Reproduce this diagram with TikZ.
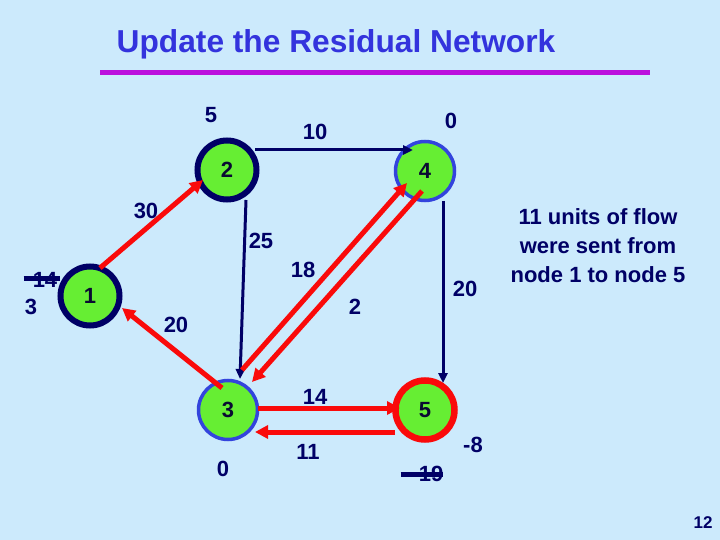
\documentclass[tikz,border=0pt]{standalone}
\usepackage{fontspec}
\setmainfont{Liberation Sans}
\usetikzlibrary{arrows.meta,calc}
\definecolor{bg}{RGB}{204,234,252}
\definecolor{navy}{RGB}{0,0,102}
\definecolor{nodegreen}{RGB}{102,238,51}
\definecolor{bluering}{RGB}{51,68,221}
\definecolor{redline}{RGB}{250,10,10}
\definecolor{titleblue}{RGB}{51,51,221}
\definecolor{magenta2}{RGB}{187,17,221}
\definecolor{ink}{RGB}{10,10,50}
\begin{document}
\begin{tikzpicture}[x=1pt,y=-1pt,
  netnode/.style={circle,fill=nodegreen,minimum size=59pt,inner sep=0pt,
    font=\bfseries\fontsize{22}{25}\selectfont,text=ink},
  darkring/.style={netnode,draw=navy,line width=6pt},
  bluer/.style={netnode,draw=bluering,line width=3.5pt},
  redr/.style={netnode,draw=redline,line width=6.5pt},
  lbl/.style={font=\bfseries\fontsize{22}{25}\selectfont,text=navy,inner sep=0pt},
  redarrow/.style={draw=redline,line width=5pt,-{Triangle[length=13pt,width=13pt]}},
  navyarrow/.style={draw=navy,line width=3pt,-{Triangle[length=10pt,width=9pt]}},
  strike/.style={draw=navy,line width=5pt}
]
\fill[bg] (0,0) rectangle (720,540);
\useasboundingbox (0,0) rectangle (720,540);

% title
\node[font=\bfseries\fontsize{31.7}{36}\selectfont,text=titleblue,inner sep=0pt] (title) at (336,44) {Update the Residual Network};
\coordinate (ruleL) at (100,73);
\coordinate (ruleR) at (650,73);
\draw[magenta2,line width=5pt] (ruleL) -- (ruleR);

% nodes
\node[darkring] (n1) at (90,296) {1};
\node[darkring] (n2) at (227,170) {2};
\node[bluer] (n4) at (425,171) {4};
\node[bluer] (n3) at (228,410) {3};
\node[redr] (n5) at (425,410) {5};

% navy arcs
\draw[navyarrow] ($(n2)+(28,-20)$) -- ($(n4)+(-12,-21)$);
\draw[navyarrow] ($(n2)+(19,30)$) -- ($(n3)+(12,-31)$);
\draw[navyarrow] ($(n4)+(18,30)$) -- ($(n5)+(18,-27)$);

% red arcs
\draw[redarrow] ($(n1)+(10,-28)$) -- ($(n2)+(-24,10)$);
\draw[redarrow] ($(n3)+(-6,-22)$) -- ($(n1)+(32,12)$);
\draw[redarrow] ($(n3)+(14,-40)$) -- ($(n4)+(-18,12)$);
\draw[redarrow] ($(n4)+(-3,20)$) -- ($(n3)+(24,-28)$);
\draw[redarrow] ($(n3)+(30,-2)$) -- ($(n5)+(-25,-2)$);
\draw[redarrow] ($(n5)+(-30,22)$) -- ($(n3)+(27,22)$);

% arc labels
\node[lbl] (l30) at (146,211) {30};
\node[lbl] (l10) at (315,132) {10};
\node[lbl] (l25) at (261,241) {25};
\node[lbl] (l18) at (303,270) {18};
\node[lbl] (l20r) at (465,289) {20};
\node[lbl] (l2) at (355,307) {2};
\node[lbl] (l20l) at (176,325) {20};
\node[lbl] (l14) at (315,397) {14};
\node[lbl] (l11) at (308,452) {11};

% node supplies
\node[lbl] (s2) at (211,115) {5};
\node[lbl] (s4) at (451,121) {0};
\node[lbl] (s1) at (31,307) {3};
\node[lbl] (s1old) at (45,280) {14};
\draw[strike,shorten <=-9pt,shorten >=-3pt] ($(s1old.west)+(0,-2)$) -- ($(s1old.east)+(0,-2)$);
\node[lbl] (s3) at (223,469) {0};
\node[lbl] (s5) at (473,445) {-8};
\node[lbl] (s5old) at (431,474) {19};
\draw[strike,shorten <=-18pt,shorten >=0pt] (s5old.west) -- (s5old.east);

% side note
\node[font=\bfseries\fontsize{22}{29}\selectfont,text=navy,align=center,inner sep=0pt] (note) at (598,246)
  {11 units of flow\\were sent from\\node 1 to node 5};

% page number
\node[font=\bfseries\fontsize{17}{20}\selectfont,text=navy,inner sep=0pt] (page) at (703,523) {12};
\end{tikzpicture}
\end{document}
